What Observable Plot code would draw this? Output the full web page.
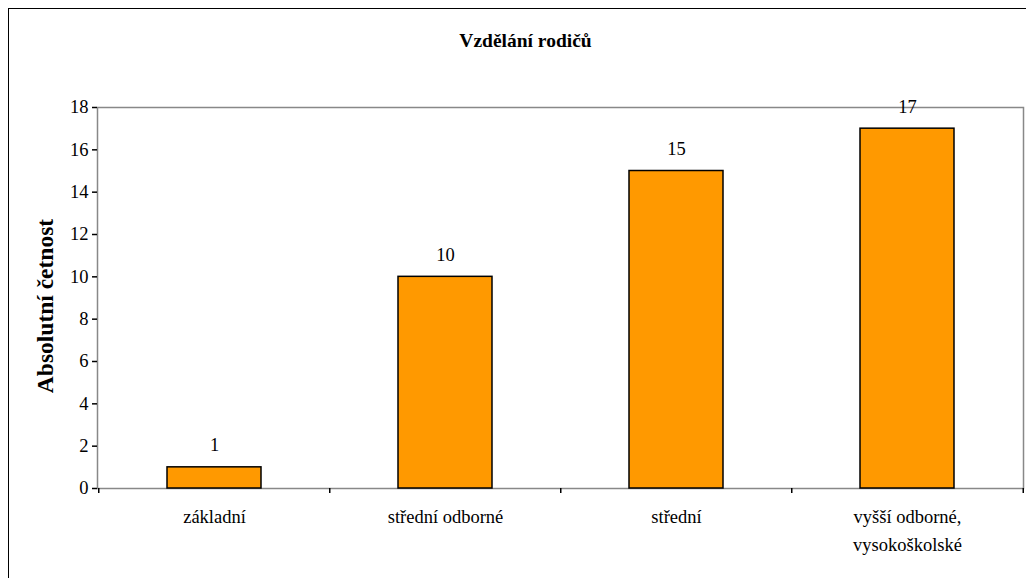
<!DOCTYPE html>
<html>
<head>
<meta charset="utf-8">
<script src="https://cdn.jsdelivr.net/npm/d3@7"></script>
<script src="https://cdn.jsdelivr.net/npm/@observablehq/plot@0.6"></script>
<style>
  html, body { margin: 0; padding: 0; background: #fff; }
  #wrap { position: relative; width: 1026px; height: 578px; overflow: hidden; }
  #border { position: absolute; left: 8px; top: 8px; width: 1100px; height: 700px;
            border-left: 1.5px solid #000; border-top: 1.5px solid #000; }
  svg text { font-family: "Liberation Serif", "Times New Roman", serif; }
</style>
</head>
<body>
<div id="wrap"><div id="border"></div></div>
<script>
// Parents' education — absolute frequencies
const categories = ["základní", "střední odborné", "střední", "vyšší odborné, vysokoškolské"];
const counts = [1, 10, 15, 17];
const yTicks = [0, 2, 4, 6, 8, 10, 12, 14, 16, 18];
const title = "Vzdělání rodičů";
const yLabel = "Absolutní četnost";
const tickLabels = ["základní", "střední odborné", "střední", "vyšší odborné,\nvysokoškolské"];

const data = categories.map((c, i) => ({category: c, count: counts[i]}));

const W = 1026, H = 578;
const mL = 97, mR = 3, mT = 107, mB = 90;
const step = (W - mL - mR) / categories.length;
const serif = "Liberation Serif";

const chart = Plot.plot({
  width: W,
  height: H,
  marginLeft: mL,
  marginRight: mR,
  marginTop: mT,
  marginBottom: mB,
  style: {fontFamily: serif, fontSize: "18.5px", color: "#000", background: "transparent", overflow: "visible"},
  x: {domain: categories, paddingInner: 0.594, paddingOuter: 0.297, label: null},
  y: {domain: [0, 18], label: null},
  marks: [
    Plot.frame({stroke: "#888", strokeWidth: 1.5}),
    Plot.barY(data, {x: "category", y: "count", fill: "#FF9900", stroke: "#000", strokeWidth: 1.5}),
    Plot.text(data, {x: "category", y: "count", text: d => String(d.count), dy: -22, fontSize: 18.5, fontFamily: serif, fill: "#000"}),
    Plot.axisY({ticks: yTicks, tickSize: 5, tickPadding: 4, line: true, strokeWidth: 1.5, fontSize: 18.5, fontFamily: serif, label: null}),
    Plot.axisX({tickSize: 0, tickPadding: 15, line: true, strokeWidth: 1.5, fontSize: 18.5, fontFamily: serif, lineHeight: 1.5,
      tickFormat: d => tickLabels[categories.indexOf(d)], label: null}),
    // tick marks at category boundaries
    Plot.ruleX(categories, {x: d => d, y1: 0, y2: 0, insetBottom: -5, dx: -step / 2, stroke: "#000", strokeWidth: 1.5}),
    Plot.ruleX(categories.slice(-1), {x: d => d, y1: 0, y2: 0, insetBottom: -5, dx: step / 2, stroke: "#000", strokeWidth: 1.5}),
    Plot.text([title], {frameAnchor: "top", textAnchor: "middle", dy: -74, dx: -35, fontWeight: "bold", fontSize: 19.5, fontFamily: serif, fill: "#000"}),
    Plot.text([yLabel], {frameAnchor: "left", textAnchor: "middle", dx: -52, dy: 8, rotate: -90, fontWeight: "bold", fontSize: 23.5, fontFamily: serif, fill: "#000"})
  ]
});

document.getElementById("wrap").prepend(chart);
</script>
</body>
</html>
